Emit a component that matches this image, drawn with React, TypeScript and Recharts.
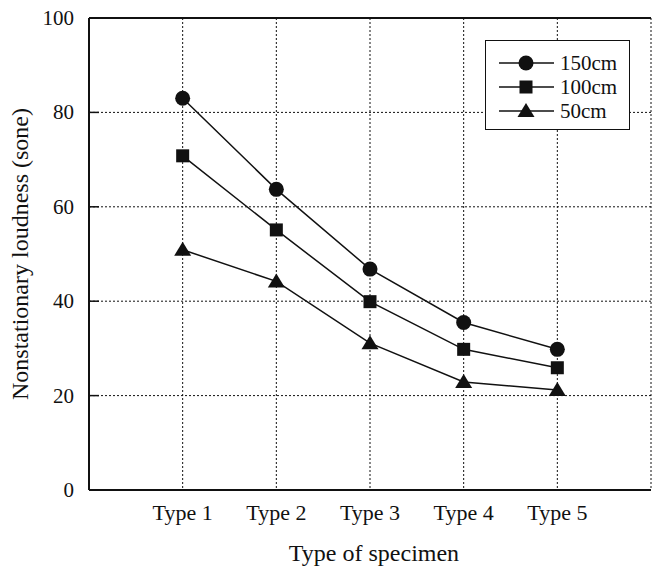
import { LineChart, Line, XAxis, YAxis, CartesianGrid, ReferenceLine } from 'recharts';

const types = ['Type 1', 'Type 2', 'Type 3', 'Type 4', 'Type 5'];
const loud150 = [83.0, 63.7, 46.8, 35.5, 29.8];
const loud100 = [70.8, 55.1, 39.9, 29.8, 25.9];
const loud50 = [50.9, 44.2, 31.1, 22.9, 21.2];
const yTicks = [0, 20, 40, 60, 80, 100];
const xTicks = [1, 2, 3, 4, 5];

const series = [
  { key: 'h150', name: '150cm', values: loud150, marker: 'circle' },
  { key: 'h100', name: '100cm', values: loud100, marker: 'square' },
  { key: 'h50', name: '50cm', values: loud50, marker: 'triangle' },
];

const data = types.map((t, i) => ({
  x: i + 1,
  h150: loud150[i],
  h100: loud100[i],
  h50: loud50[i],
}));

const FONT = 'Liberation Serif, Times New Roman, serif';

function Marker({ cx, cy, kind }: { cx: number; cy: number; kind: string }) {
  if (kind === 'circle') return <circle cx={cx} cy={cy} r={7.5} fill="#111" />;
  if (kind === 'square') return <rect x={cx - 6.5} y={cy - 6.5} width={13} height={13} fill="#111" />;
  return (
    <polygon
      points={`${cx},${cy - 8} ${cx - 8.5},${cy + 6} ${cx + 8.5},${cy + 6}`}
      fill="#111"
    />
  );
}

function LeftTick(props: any) {
  const { x, y, payload } = props;
  return (
    <g>
      <line x1={x + 15} x2={x + 25} y1={y} y2={y} stroke="#111" strokeWidth={1.5} />
      <text x={x} y={y} dy={7} textAnchor="end" fontFamily={FONT} fontSize={21} fill="#111">
        {payload.value}
      </text>
    </g>
  );
}

function RightTick(props: any) {
  const { x, y } = props;
  return <line x1={x - 10} x2={x} y1={y} y2={y} stroke="#111" strokeWidth={1.5} />;
}

function BottomTick(props: any) {
  const { x, y, payload } = props;
  return (
    <text x={x} y={y} dy={22} textAnchor="middle" fontFamily={FONT} fontSize={22} fill="#111">
      {types[payload.value - 1]}
    </text>
  );
}

function LegendBox() {
  return (
    <div
      style={{
        position: 'absolute',
        left: 485,
        top: 40,
        width: 143,
        height: 88,
        border: '1.5px solid #111',
        background: '#fff',
      }}
    >
      <svg width={143} height={88}>
        {series.map((s, i) => {
          const cy = 22 + i * 24;
          return (
            <g key={s.key}>
              <line x1={13} x2={68} y1={cy} y2={cy} stroke="#111" strokeWidth={1.5} />
              <Marker cx={40} cy={cy} kind={s.marker} />
              <text x={74} y={cy} dy={7} fontFamily={FONT} fontSize={21} fill="#111">
                {s.name}
              </text>
            </g>
          );
        })}
      </svg>
    </div>
  );
}

export default function App() {
  return (
    <div style={{ position: 'absolute', left: 0, top: 0, width: 652, height: 567, background: '#fff' }}>
      <LineChart
        width={652}
        height={567}
        data={data}
        margin={{ top: 18, right: 0, bottom: 0, left: 0 }}
      >
        <CartesianGrid stroke="#111" strokeDasharray="2 2" strokeWidth={1} />
        <XAxis
          dataKey="x"
          type="number"
          domain={[0, 6]}
          ticks={xTicks}
          height={77}
          axisLine={{ stroke: '#111', strokeWidth: 2 }}
          tickLine={false}
          tick={<BottomTick />}
          label={{
            value: 'Type of specimen',
            position: 'insideBottom',
            offset: 6,
            dx: 4,
            fontFamily: FONT,
            fontSize: 24,
            fill: '#111',
          }}
        />
        <YAxis
          domain={[0, 100]}
          ticks={yTicks}
          width={89}
          axisLine={{ stroke: '#111', strokeWidth: 2 }}
          tickLine={false}
          tickSize={0}
          tickMargin={15}
          tick={<LeftTick />}
          label={{
            value: 'Nonstationary loudness (sone)',
            angle: -90,
            position: 'insideLeft',
            offset: 19,
            style: { textAnchor: 'middle' },
            fontFamily: FONT,
            fontSize: 24,
            fill: '#111',
          }}
        />
        <YAxis
          yAxisId="r"
          orientation="right"
          domain={[0, 100]}
          ticks={yTicks}
          width={1}
          axisLine={false}
          tickLine={false}
          tickSize={0}
          tickMargin={0}
          tick={<RightTick />}
        />
        <ReferenceLine y={100} stroke="#111" strokeWidth={2} />
        {series.map((s) => (
          <Line
            key={s.key}
            dataKey={s.key}
            name={s.name}
            stroke="#111"
            strokeWidth={1.5}
            isAnimationActive={false}
            dot={(p: any) => <Marker key={`${s.key}-${p.index}`} cx={p.cx} cy={p.cy} kind={s.marker} />}
          />
        ))}
      </LineChart>
      <LegendBox />
    </div>
  );
}
